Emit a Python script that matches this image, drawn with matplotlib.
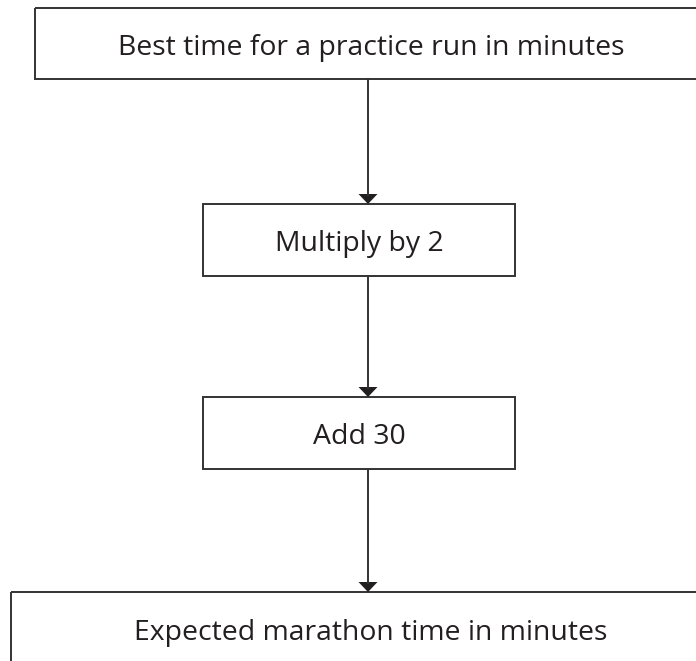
import matplotlib
matplotlib.use("Agg")
import matplotlib.pyplot as plt
from matplotlib.patches import Rectangle, Polygon

steps = ["Best time for a practice run in minutes",
         "Multiply by 2",
         "Add 30",
         "Expected marathon time in minutes"]

# box geometry in pixel coordinates (left, top, right, bottom)
boxes = [(34.5, 7.5, 705, 79),
         (203, 204, 515, 276),
         (203, 397, 515, 469),
         (11, 592, 705, 700)]
text_base = [55, 251.5, 444.5, 640]
text_x = [371, 359, 359, 371]
arrow_x = 368

fig = plt.figure(figsize=(6.96, 6.61), dpi=100)
ax = fig.add_axes([0, 0, 1, 1])
ax.set_xlim(0, 696)
ax.set_ylim(661, 0)
ax.axis("off")

lc = "#333333"
for (l, t, r, b), label, tx, ty in zip(boxes, steps, text_x, text_base):
    ax.add_patch(Rectangle((l, t), r - l, b - t, fill=False, ec=lc, lw=1.4))
    ax.text(tx, ty, label, ha="center", va="baseline", fontsize=20.4,
            family="Open Sans", color="#231f20")

for i in range(len(boxes) - 1):
    y0 = boxes[i][3]
    y1 = boxes[i + 1][1]
    ax.plot([arrow_x, arrow_x], [y0, y1 - 9], color=lc, lw=1.4)
    ax.add_patch(Polygon([(arrow_x - 9.5, y1 - 10), (arrow_x + 9.5, y1 - 10), (arrow_x, y1)],
                         closed=True, fc="#231f20", ec="none"))

fig.savefig("out.png", dpi=100)
